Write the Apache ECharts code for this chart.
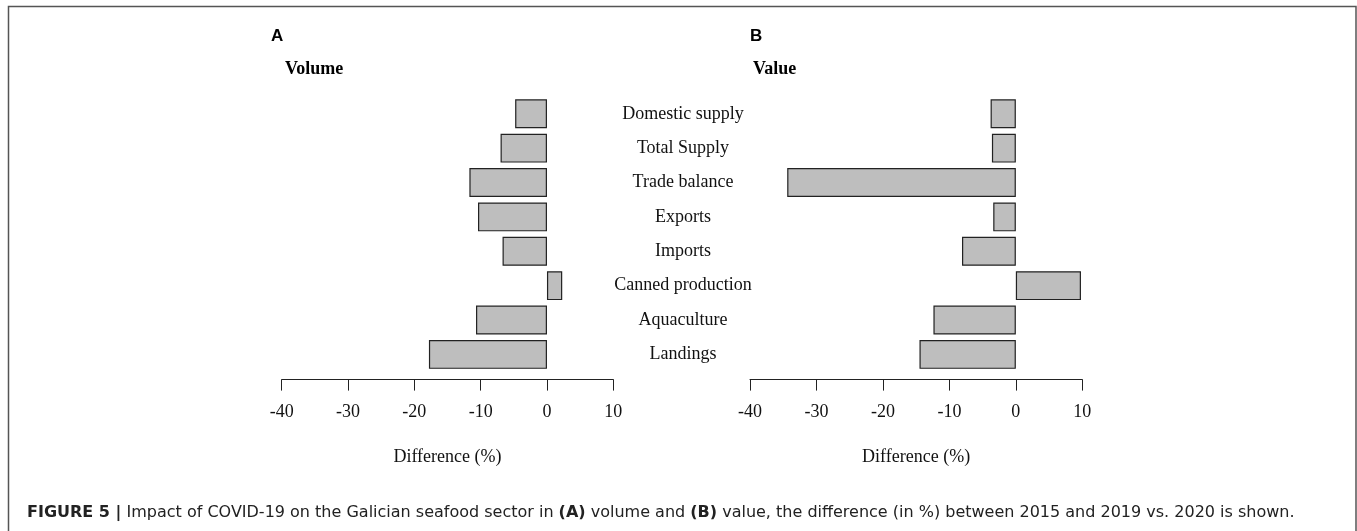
<!DOCTYPE html>
<html>
<head>
<meta charset="utf-8">
<script src="https://cdn.jsdelivr.net/npm/echarts@6/dist/echarts.min.js"></script>
<style>
  html, body { margin: 0; padding: 0; background: #fff; }
  #chart { width: 1357px; height: 531px; }
</style>
</head>
<body>
<div id="chart"></div>
<script>
// rows from top to bottom
const categories = ['Domestic supply', 'Total Supply', 'Trade balance', 'Exports',
  'Imports', 'Canned production', 'Aquaculture', 'Landings'];
// difference (%) 2015-2019 vs 2020
const volumeDiff = [-4.8, -7.0, -11.7, -10.4, -6.7, 2.3, -10.7, -17.8];
const valueDiff = [-3.8, -3.6, -34.4, -3.4, -8.1, 9.8, -12.4, -14.5];
const xTicks = { min: -40, max: 10, interval: 10 };

const serif = '"Liberation Serif", "Times New Roman", serif';
const sans = '"Liberation Sans", Arial, sans-serif';
const captionFont = '"DejaVu Sans", "Liberation Sans", sans-serif';

function xAxisFor(gridIndex) {
  return {
    type: 'value',
    gridIndex,
    min: xTicks.min,
    max: xTicks.max,
    interval: xTicks.interval,
    offset: 8,
    splitLine: { show: false },
    axisLine: { show: true, lineStyle: { color: '#222', width: 1 } },
    axisTick: { show: true, length: 11, lineStyle: { color: '#222', width: 1 } },
    axisLabel: { color: '#111', fontFamily: serif, fontSize: 18, margin: 24 },
    name: 'Difference (%)',
    nameLocation: 'middle',
    nameGap: 69,
    nameTextStyle: { color: '#111', fontFamily: serif, fontSize: 18 },
  };
}

function yAxisFor(gridIndex, showLabels) {
  return {
    type: 'category',
    gridIndex,
    data: categories,
    inverse: true,
    axisLine: { show: false, onZero: false },
    axisTick: { show: false },
    axisLabel: {
      show: showLabels,
      color: '#111',
      fontFamily: serif,
      fontSize: 18,
      align: 'center',
      margin: 67,
    },
  };
}

const barStyle = { color: '#bebebe', borderColor: '#222', borderWidth: 1.2 };

const chart = echarts.init(document.getElementById('chart'));
chart.setOption({
  animation: false,
  backgroundColor: '#fff',
  grid: [
    { left: 281.7, width: 331.6, top: 96.6, height: 275 },
    { left: 750, width: 332.3, top: 96.6, height: 275 },
  ],
  xAxis: [xAxisFor(0), xAxisFor(1)],
  yAxis: [yAxisFor(0, false), yAxisFor(1, true)],
  series: [
    { type: 'bar', xAxisIndex: 0, yAxisIndex: 0, data: volumeDiff, barWidth: '84%', itemStyle: barStyle },
    { type: 'bar', xAxisIndex: 1, yAxisIndex: 1, data: valueDiff, barWidth: '84%', itemStyle: barStyle },
  ],
  graphic: [
    {
      type: 'rect', silent: true,
      shape: { x: 8.5, y: 6.5, width: 1347.5, height: 560 },
      style: { fill: null, stroke: '#555', lineWidth: 1.5 },
    },
    { type: 'text', left: 271, top: 28, style: { text: 'A', font: 'bold 17px ' + sans, fill: '#000' } },
    { type: 'text', left: 750, top: 28, style: { text: 'B', font: 'bold 17px ' + sans, fill: '#000' } },
    { type: 'text', left: 285, top: 60, style: { text: 'Volume', font: 'bold 18px ' + serif, fill: '#000' } },
    { type: 'text', left: 753, top: 60, style: { text: 'Value', font: 'bold 18px ' + serif, fill: '#000' } },
    {
      type: 'text', left: 27, top: 505,
      style: {
        text: '{b|FIGURE 5 |} Impact of COVID-19 on the Galician seafood sector in {b|(A)} volume and {b|(B)} value, the difference (in %) between 2015 and 2019 vs. 2020 is shown.',
        font: '16px ' + captionFont,
        fill: '#222',
        rich: {
          b: { fontFamily: captionFont, fontSize: 16, fontWeight: 'bold', fill: '#222' },
        },
      },
    },
  ],
});
</script>
</body>
</html>
